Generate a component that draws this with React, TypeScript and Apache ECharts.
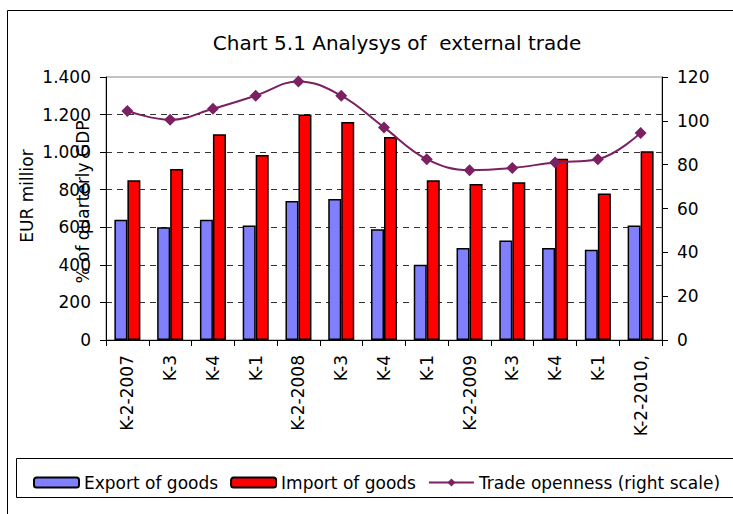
import React, { useEffect, useRef } from "react";
import * as echarts from "echarts";

const categories = ["K-2-2007", "K-3", "K-4", "K-1", "K-2-2008", "K-3", "K-4", "K-1", "K-2-2009", "K-3", "K-4", "K-1", "K-2-2010,"];
const exportGoods = [640, 600, 640, 610, 740, 750, 590, 400, 490, 530, 490, 480, 610];
const importGoods = [850, 910, 1095, 985, 1200, 1160, 1080, 850, 830, 840, 965, 780, 1005];
const tradeOpenness = [104.5, 100.5, 105.5, 111.5, 118, 111.5, 97, 82.5, 77.5, 78.5, 81, 82.5, 94.5];

const FONT = "DejaVu Sans, Verdana, sans-serif";

export default function App() {
  const ref = useRef<HTMLDivElement>(null);
  useEffect(() => {
    if (!ref.current) return;
    const chart = echarts.init(ref.current, undefined, { renderer: "svg" });
    chart.setOption({
      animation: false,
      backgroundColor: "#fff",
      textStyle: { fontFamily: FONT, color: "#000" },
      title: {
        text: "Chart 5.1 Analysys of  external trade",
        left: 392,
        textAlign: "center",
        top: 28,
        textStyle: { fontFamily: FONT, fontSize: 20, fontWeight: "normal", color: "#000" },
      },
      graphic: [
        { type: "rect", shape: { x: 7.5, y: 10.5, width: 900, height: 700 }, style: { fill: "none", stroke: "#000", lineWidth: 1 }, silent: true, z: -1 },
        { type: "rect", shape: { x: 16.5, y: 458.5, width: 900, height: 39 }, style: { fill: "none", stroke: "#000", lineWidth: 1 }, silent: true },
        { type: "text", x: 27, y: 196, rotation: Math.PI / 2, style: { text: "EUR millior", font: `17px ${FONT}`, fill: "#000", textAlign: "center", textVerticalAlign: "middle" } },
        { type: "text", x: 83, y: 202, rotation: Math.PI / 2, style: { text: "% of quarterly GDP", font: `17px ${FONT}`, fill: "#000", textAlign: "center", textVerticalAlign: "middle" } },
      ],
      legend: {
        left: 28,
        top: 469,
        width: 720,
        itemWidth: 45,
        itemHeight: 10,
        itemGap: 12,
        textStyle: { fontFamily: FONT, fontSize: 17, color: "#000" },
        data: ["Export of goods", "Import of goods", "Trade openness (right scale)"],
      },
      grid: { left: 106, right: 71, top: 77, bottom: 174, show: true, borderColor: "#888", borderWidth: 1, backgroundColor: "transparent" },
      xAxis: {
        type: "category",
        data: categories,
        boundaryGap: true,
        axisLine: { lineStyle: { color: "#000", width: 1 } },
        axisTick: { show: true, alignWithLabel: false, length: 6, lineStyle: { color: "#000" } },
        axisLabel: { rotate: 90, fontSize: 17, fontFamily: FONT, color: "#000", margin: 15, interval: 0 },
      },
      yAxis: [
        {
          type: "value",
          min: 0,
          max: 1400,
          interval: 200,
          position: "left",
          axisLine: { show: true, lineStyle: { color: "#000" } },
          axisTick: { show: true, length: 6, lineStyle: { color: "#000" } },
          axisLabel: {
            fontSize: 17,
            fontFamily: FONT,
            color: "#000",
            margin: 15,
            formatter: (v: number) => (v >= 1000 ? `${Math.floor(v / 1000)}.${String(v % 1000).padStart(3, "0")}` : String(v)),
          },
          splitLine: { show: true, showMinLine: false, showMaxLine: false, lineStyle: { color: "#333", type: [6, 5], width: 1 } },
        },
        {
          type: "value",
          min: 0,
          max: 120,
          interval: 20,
          position: "right",
          axisLine: { show: true, lineStyle: { color: "#000" } },
          axisTick: { show: true, length: 6, lineStyle: { color: "#000" } },
          axisLabel: { fontSize: 17, fontFamily: FONT, color: "#000", margin: 15 },
          splitLine: { show: false },
        },
      ],
      series: [
        {
          name: "Export of goods",
          type: "bar",
          data: exportGoods,
          barWidth: 13,
          barGap: "0%",
          itemStyle: { color: "#8080FF", borderColor: "#000", borderWidth: 1.5 },
        },
        {
          name: "Import of goods",
          type: "bar",
          data: importGoods,
          barWidth: 13,
          barGap: "0%",
          itemStyle: { color: "#FF0000", borderColor: "#000", borderWidth: 1.5 },
        },
        {
          name: "Trade openness (right scale)",
          type: "line",
          yAxisIndex: 1,
          data: tradeOpenness,
          smooth: 0.4,
          symbol: "diamond",
          symbolSize: 12,
          lineStyle: { color: "#7B2062", width: 2 },
          itemStyle: { color: "#7B2062" },
          z: 5,
        },
      ],
    });
    return () => chart.dispose();
  }, []);
  return <div ref={ref} style={{ position: "absolute", left: 0, top: 0, width: 733, height: 514 }} />;
}
